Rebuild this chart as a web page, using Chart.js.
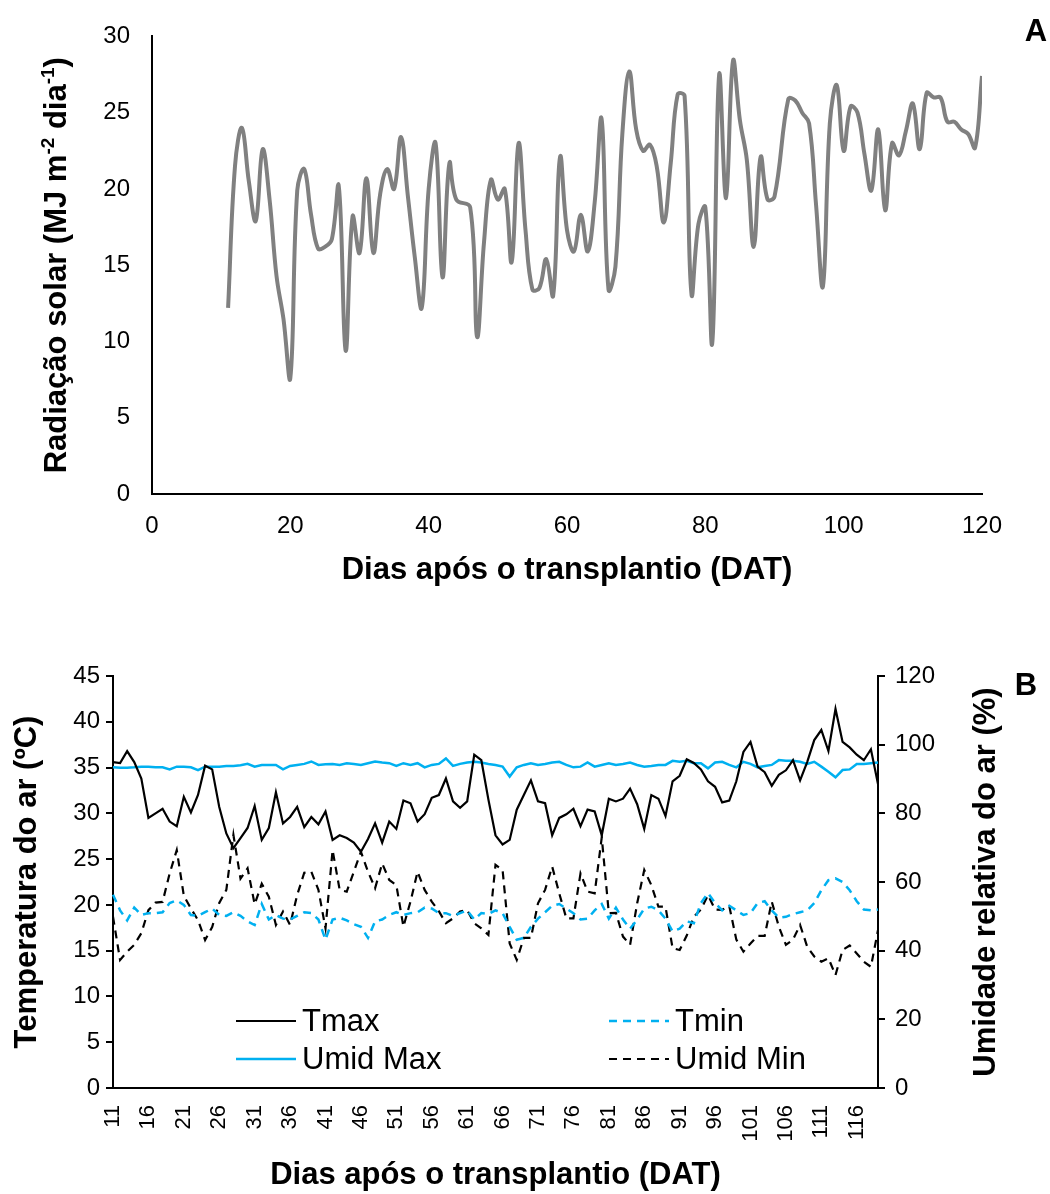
<!DOCTYPE html>
<html lang="pt">
<head>
<meta charset="UTF-8">
<title>Radiação solar, temperatura e umidade</title>
<script src="https://cdn.jsdelivr.net/npm/chart.js"></script>
<style>
    body { margin: 0; background: #fff; }
    #painelA, #painelB { width: 1050px; }
    canvas { display: block; }
</style>
</head>
<body>
<div id="painelA"><canvas id="graficoRadiacao" width="1050" height="600"></canvas></div>
<div id="painelB"><canvas id="graficoClima" width="1050" height="594"></canvas></div>

<script>
    // ---- painel A: radiacao solar ----
    var diasRadiacao = [11, 12, 13, 14, 15, 16, 17, 18, 19, 20, 21, 22, 23, 24, 25, 26, 27, 28, 29, 30,
        31, 32, 33, 34, 35, 36, 37, 38, 39, 40, 41, 42, 43, 44, 46, 47, 48, 49, 50, 51,
        52, 53, 54, 55, 56, 57, 58, 59, 60, 61, 62, 63, 64, 65, 66, 67, 68, 69, 70, 71,
        72, 73, 74, 75, 76, 77, 78, 79, 80, 81, 82, 83, 84, 85, 86, 87, 88, 89, 90, 92,
        93, 94, 95, 96, 97, 98, 99, 100, 101, 102, 103, 104, 105, 106, 107, 108, 109, 110, 111, 112,
        113, 114, 115, 116, 117, 118, 119, 120];
    var radiacao = [12.2, 21.5, 24.0, 20.5, 17.9, 22.6, 19.3, 14.3, 11.5, 7.6,
        19.9, 21.3, 18.3, 16.1, 16.2, 16.7, 20.2, 9.4, 18.2, 15.8,
        20.7, 15.8, 19.7, 21.3, 20.0, 23.4, 19.5, 15.5, 12.2, 20.0,
        23.0, 14.2, 21.7, 19.3, 18.8, 10.3, 16.5, 20.6, 19.3, 20.0,
        15.2, 23.0, 17.3, 13.4, 13.5, 15.4, 13.0, 22.1, 17.3, 15.9,
        18.3, 15.9, 19.1, 24.6, 13.4, 14.9, 23.6, 27.7, 23.9, 22.5,
        22.9, 21.4, 17.8, 21.7, 26.2, 26.1, 13.1, 17.7, 18.8, 9.9,
        27.5, 19.4, 28.4, 24.5, 21.9, 16.2, 22.1, 19.3, 19.5, 25.9,
        25.8, 25.0, 24.3, 19.0, 13.6, 24.3, 26.8, 22.5, 25.4, 25.0,
        22.3, 19.9, 23.9, 18.6, 23.0, 22.2, 23.8, 25.6, 22.6, 26.3,
        26.0, 26.0, 24.4, 24.4, 23.9, 23.6, 22.7, 27.4];
    var ticksRadX = [0, 20, 40, 60, 80, 100, 120];
    var ticksRadY = [0, 5, 10, 15, 20, 25, 30];

    // ---- painel B: temperatura e umidade ----
    var diasClima = [11, 12, 13, 14, 15, 16, 17, 18, 19, 20, 21, 22, 23, 24, 25, 26, 27, 28, 29, 30,
        31, 32, 33, 34, 35, 36, 37, 38, 39, 40, 41, 42, 43, 44, 45, 46, 47, 48, 49, 50,
        51, 52, 53, 54, 55, 56, 57, 58, 59, 60, 61, 62, 63, 64, 65, 66, 67, 68, 69, 70,
        71, 72, 73, 74, 75, 76, 77, 78, 79, 80, 81, 82, 83, 84, 85, 86, 87, 88, 89, 90,
        91, 92, 93, 94, 95, 96, 97, 98, 99, 100, 101, 102, 103, 104, 105, 106, 107, 108, 109, 110,
        111, 112, 113, 114, 115, 116, 117, 118, 119];
    var rotulosDAT = [11, 16, 21, 26, 31, 36, 41, 46, 51, 56, 61, 66, 71, 76, 81, 86, 91, 96, 101, 106, 111, 116];
    var tmax = [35.6, 35.5, 36.8, 35.6, 33.8, 29.5, 30.0, 30.5, 29.1, 28.6,
        31.8, 30.1, 32.0, 35.2, 34.8, 30.7, 27.8, 26.2, 27.3, 28.4,
        30.8, 27.1, 28.4, 32.3, 28.9, 29.6, 30.7, 28.5, 29.6, 28.8,
        30.2, 27.1, 27.6, 27.3, 26.8, 25.8, 27.2, 28.9, 26.8, 29.1,
        28.3, 31.4, 31.1, 29.1, 29.9, 31.7, 32.0, 33.8, 31.3, 30.6,
        31.3, 36.4, 35.8, 31.5, 27.6, 26.6, 27.1, 30.4, 32.0, 33.6,
        31.3, 31.1, 27.6, 29.5, 29.9, 30.5, 28.6, 30.4, 30.2, 27.6,
        31.6, 31.3, 31.6, 32.7, 31.0, 28.3, 32.0, 31.6, 29.7, 33.5,
        34.1, 35.9, 35.5, 34.8, 33.5, 32.9, 31.2, 31.4, 33.5, 36.7,
        37.8, 35.1, 34.5, 33.0, 34.2, 34.7, 35.8, 33.6, 35.6, 38.0,
        39.1, 36.8, 41.4, 37.8, 37.2, 36.4, 35.8, 37.0, 33.2];
    var tmin = [21.1, 19.4, 18.3, 19.7, 18.9, 19.1, 19.1, 19.2, 20.2, 20.5,
        20.0, 18.9, 18.8, 19.2, 19.6, 18.9, 18.8, 19.2, 18.8, 18.2,
        17.8, 20.1, 18.4, 18.9, 18.5, 18.4, 18.8, 19.2, 19.1, 18.4,
        16.2, 18.4, 18.6, 18.3, 17.9, 17.6, 16.4, 18.2, 18.4, 18.9,
        19.2, 18.9, 19.1, 19.2, 19.7, 19.6, 19.1, 19.1, 18.8, 19.1,
        19.4, 18.4, 19.1, 19.0, 19.4, 19.1, 17.6, 16.2, 16.4, 17.6,
        18.5, 19.2, 19.9, 20.1, 19.6, 19.1, 18.4, 18.5, 19.4, 20.1,
        18.5, 19.7, 18.4, 17.4, 18.4, 19.6, 19.8, 19.4, 18.5, 17.1,
        17.4, 18.2, 18.0, 20.2, 21.3, 20.2, 19.4, 19.9, 19.4, 18.9,
        19.1, 20.2, 20.4, 19.4, 18.6, 18.7, 19.0, 19.2, 19.4, 20.2,
        21.6, 22.7, 22.9, 22.5, 21.6, 20.4, 19.5, 19.4, 19.5];
    var umidMax = [93.4, 93.3, 93.3, 93.4, 93.6, 93.6, 93.4, 93.4, 92.8, 93.6,
        93.6, 93.4, 92.6, 93.6, 93.6, 93.6, 93.8, 93.8, 94.0, 94.4,
        93.6, 94.1, 94.1, 94.1, 92.8, 93.8, 94.1, 94.4, 95.1, 94.1,
        94.3, 94.4, 94.1, 94.6, 94.4, 94.1, 94.6, 95.1, 94.8, 94.6,
        93.8, 94.6, 94.1, 94.6, 93.4, 94.1, 94.4, 96.0, 93.8, 94.4,
        94.8, 95.0, 94.8, 94.4, 94.1, 93.6, 90.7, 93.4, 94.1, 94.6,
        94.1, 94.4, 94.8, 95.0, 94.1, 93.4, 93.6, 94.8, 93.6, 94.1,
        94.6, 94.1, 94.4, 94.8, 94.1, 93.6, 93.8, 94.1, 94.1, 95.3,
        95.0, 95.3, 94.6, 94.6, 93.1, 94.8, 95.0, 94.1, 93.4, 95.0,
        94.4, 93.4, 93.8, 94.1, 95.5, 95.3, 95.3, 95.0, 94.4, 95.0,
        93.6, 92.1, 90.5, 92.6, 92.8, 94.4, 94.4, 94.6, 94.8];
    var umidMin = [49.9, 37.3, 39.7, 41.7, 45.1, 51.8, 54.0, 54.2, 62.5, 69.3,
        56.0, 52.3, 48.9, 43.1, 46.9, 53.9, 57.7, 73.7, 61.0, 64.0,
        53.5, 59.5, 55.7, 47.5, 51.4, 47.5, 56.2, 62.7, 63.0, 57.7,
        46.5, 69.3, 57.7, 57.2, 63.0, 68.8, 63.0, 58.2, 65.4, 60.6,
        59.1, 47.0, 54.3, 63.0, 57.7, 54.3, 51.5, 48.0, 49.4, 51.4,
        51.8, 48.0, 46.5, 44.6, 65.0, 63.5, 42.1, 37.3, 43.7, 43.7,
        53.8, 57.7, 64.5, 56.7, 49.4, 49.4, 62.5, 57.2, 56.7, 73.0,
        50.9, 51.0, 44.1, 41.7, 53.8, 63.5, 59.1, 52.8, 52.8, 40.7,
        40.2, 44.4, 49.9, 52.0, 56.2, 52.0, 51.9, 53.0, 43.2, 39.7,
        42.1, 44.3, 44.3, 54.3, 47.0, 41.7, 43.2, 47.5, 41.2, 38.3,
        36.8, 37.8, 32.9, 40.2, 41.5, 39.2, 36.8, 35.3, 46.0];
    var ticksTemp = [0, 5, 10, 15, 20, 25, 30, 35, 40, 45];
    var ticksUmid = [0, 20, 40, 60, 80, 100, 120];

    var fonte = '"Liberation Sans", Arial, sans-serif';
    var azul = '#00B0F0';
    Chart.defaults.font.family = fonte;
    Chart.defaults.color = '#000';

    function fixarTicks(lista) {
        return function (escala) {
            escala.ticks = lista.map(function (v) { return { value: v }; });
        };
    }

    // titulo do eixo y com expoentes e a letra A
    var extrasRadiacao = {
        id: 'extrasRadiacao',
        afterDraw: function (chart) {
            var ctx = chart.ctx;
            var area = chart.chartArea;
            var partes = [
                ['Radiação solar (MJ m', 31, 0],
                ['-2', 19, -12],
                [' dia', 31, 0],
                ['-1', 19, -12],
                [')', 31, 0]
            ];
            ctx.save();
            ctx.fillStyle = '#000';
            ctx.translate(55, (area.top + area.bottom) / 2);
            ctx.rotate(-Math.PI / 2);
            var total = 0;
            partes.forEach(function (p) {
                ctx.font = 'bold ' + p[1] + 'px ' + fonte;
                total += ctx.measureText(p[0]).width;
            });
            var x = -total / 2;
            ctx.textBaseline = 'alphabetic';
            ctx.textAlign = 'left';
            partes.forEach(function (p) {
                ctx.font = 'bold ' + p[1] + 'px ' + fonte;
                ctx.fillText(p[0], x, 11 + p[2]);
                x += ctx.measureText(p[0]).width;
            });
            ctx.restore();

            ctx.save();
            ctx.font = 'bold 31px ' + fonte;
            ctx.fillStyle = '#000';
            ctx.textAlign = 'center';
            ctx.textBaseline = 'middle';
            ctx.fillText('A', 1036, 32);
            ctx.restore();
        }
    };

    new Chart(document.getElementById('graficoRadiacao'), {
        type: 'line',
        data: {
            datasets: [{
                label: 'Radiação solar',
                data: diasRadiacao.map(function (d, i) { return { x: d, y: radiacao[i] }; }),
                borderColor: '#808080',
                borderWidth: 4,
                pointRadius: 0,
                tension: 0.4,
                fill: false
            }]
        },
        options: {
            responsive: false,
            animation: false,
            layout: { padding: { top: 31, right: 68, left: 0, bottom: 0 } },
            plugins: { legend: { display: false }, tooltip: { enabled: false } },
            scales: {
                x: {
                    type: 'linear',
                    min: 0,
                    max: 120,
                    afterBuildTicks: fixarTicks(ticksRadX),
                    afterFit: function (s) { s.height = 106; },
                    grid: { display: false, drawTicks: false },
                    border: { display: true, color: '#000', width: 2 },
                    ticks: { padding: 18, font: { size: 24 }, color: '#000' },
                    title: {
                        display: true,
                        text: 'Dias após o transplantio (DAT)',
                        font: { size: 31, weight: 'bold' },
                        padding: { top: 0, bottom: 11 }
                    }
                },
                y: {
                    min: 0,
                    max: 30,
                    afterBuildTicks: fixarTicks(ticksRadY),
                    afterFit: function (s) { s.width = 152; },
                    grid: { display: false, drawTicks: false },
                    border: { display: true, color: '#000', width: 2 },
                    ticks: { padding: 22, font: { size: 24 }, color: '#000' }
                }
            }
        },
        plugins: [extrasRadiacao]
    });

    // titulo do eixo direito, letra B e legenda
    var extrasClima = {
        id: 'extrasClima',
        afterDraw: function (chart) {
            var ctx = chart.ctx;
            var area = chart.chartArea;
            ctx.save();
            ctx.font = 'bold 31px ' + fonte;
            ctx.fillStyle = '#000';
            ctx.textAlign = 'center';
            ctx.textBaseline = 'middle';
            ctx.translate(986, (area.top + area.bottom) / 2);
            ctx.rotate(-Math.PI / 2);
            ctx.fillText('Umidade relativa do ar (%)', 0, 0);
            ctx.restore();

            ctx.save();
            ctx.font = 'bold 31px ' + fonte;
            ctx.fillStyle = '#000';
            ctx.textAlign = 'center';
            ctx.textBaseline = 'middle';
            ctx.fillText('B', 1026, 86);
            ctx.restore();

            // posicoes da legenda: [dataset, x, y]
            var itens = [[0, 236, 421], [1, 609, 421], [2, 236, 459], [3, 609, 459]];
            ctx.save();
            ctx.font = '31px ' + fonte;
            ctx.textAlign = 'left';
            ctx.textBaseline = 'middle';
            itens.forEach(function (it) {
                var ds = chart.data.datasets[it[0]];
                ctx.beginPath();
                ctx.setLineDash(ds.borderDash || []);
                ctx.strokeStyle = ds.borderColor;
                ctx.lineWidth = ds.borderWidth;
                ctx.moveTo(it[1], it[2]);
                ctx.lineTo(it[1] + 60, it[2]);
                ctx.stroke();
                ctx.setLineDash([]);
                ctx.fillStyle = '#000';
                ctx.fillText(ds.label, it[1] + 66, it[2] + 1);
            });
            ctx.restore();
        }
    };

    new Chart(document.getElementById('graficoClima'), {
        type: 'line',
        data: {
            labels: diasClima,
            datasets: [{
                label: 'Tmax',
                data: tmax,
                yAxisID: 'y',
                borderColor: '#000',
                borderWidth: 2.2,
                pointRadius: 0,
                tension: 0,
                fill: false
            }, {
                label: 'Tmin',
                data: tmin,
                yAxisID: 'y',
                borderColor: azul,
                borderWidth: 2.5,
                borderDash: [8, 6],
                pointRadius: 0,
                tension: 0,
                fill: false
            }, {
                label: 'Umid Max',
                data: umidMax,
                yAxisID: 'y1',
                borderColor: azul,
                borderWidth: 2.5,
                pointRadius: 0,
                tension: 0,
                fill: false
            }, {
                label: 'Umid Min',
                data: umidMin,
                yAxisID: 'y1',
                borderColor: '#000',
                borderWidth: 2.2,
                borderDash: [8, 6],
                pointRadius: 0,
                tension: 0,
                fill: false
            }]
        },
        options: {
            responsive: false,
            animation: false,
            layout: { padding: { top: 76, right: 0, left: 0, bottom: 0 } },
            plugins: { legend: { display: false }, tooltip: { enabled: false } },
            scales: {
                x: {
                    type: 'category',
                    offset: false,
                    afterFit: function (s) { s.height = 106; },
                    grid: { display: false, drawTicks: false },
                    border: { display: true, color: '#000', width: 2 },
                    ticks: {
                        autoSkip: false,
                        minRotation: 90,
                        maxRotation: 90,
                        padding: 17,
                        font: { size: 22 },
                        color: '#000',
                        callback: function (valor, indice) {
                            var d = diasClima[indice];
                            return rotulosDAT.indexOf(d) !== -1 ? String(d) : null;
                        }
                    },
                    title: {
                        display: true,
                        text: 'Dias após o transplantio (DAT)',
                        font: { size: 31, weight: 'bold' },
                        padding: { top: 0, bottom: 0 }
                    }
                },
                y: {
                    position: 'left',
                    min: 0,
                    max: 45,
                    afterBuildTicks: fixarTicks(ticksTemp),
                    afterFit: function (s) { s.width = 113; },
                    grid: { display: true, drawOnChartArea: false, drawTicks: true, tickLength: 7, color: '#000', lineWidth: 2 },
                    border: { display: true, color: '#000', width: 2 },
                    ticks: { padding: 6, font: { size: 24 }, color: '#000' },
                    title: {
                        display: true,
                        text: 'Temperatura do ar (ºC)',
                        font: { size: 31, weight: 'bold' },
                        padding: { top: 9, bottom: 0 }
                    }
                },
                y1: {
                    position: 'right',
                    min: 0,
                    max: 120,
                    afterBuildTicks: fixarTicks(ticksUmid),
                    afterFit: function (s) { s.width = 172; },
                    grid: { display: true, drawOnChartArea: false, drawTicks: true, tickLength: 7, color: '#000', lineWidth: 2 },
                    border: { display: true, color: '#000', width: 2 },
                    ticks: { padding: 10, font: { size: 24 }, color: '#000' }
                }
            }
        },
        plugins: [extrasClima]
    });
</script>
</body>
</html>
